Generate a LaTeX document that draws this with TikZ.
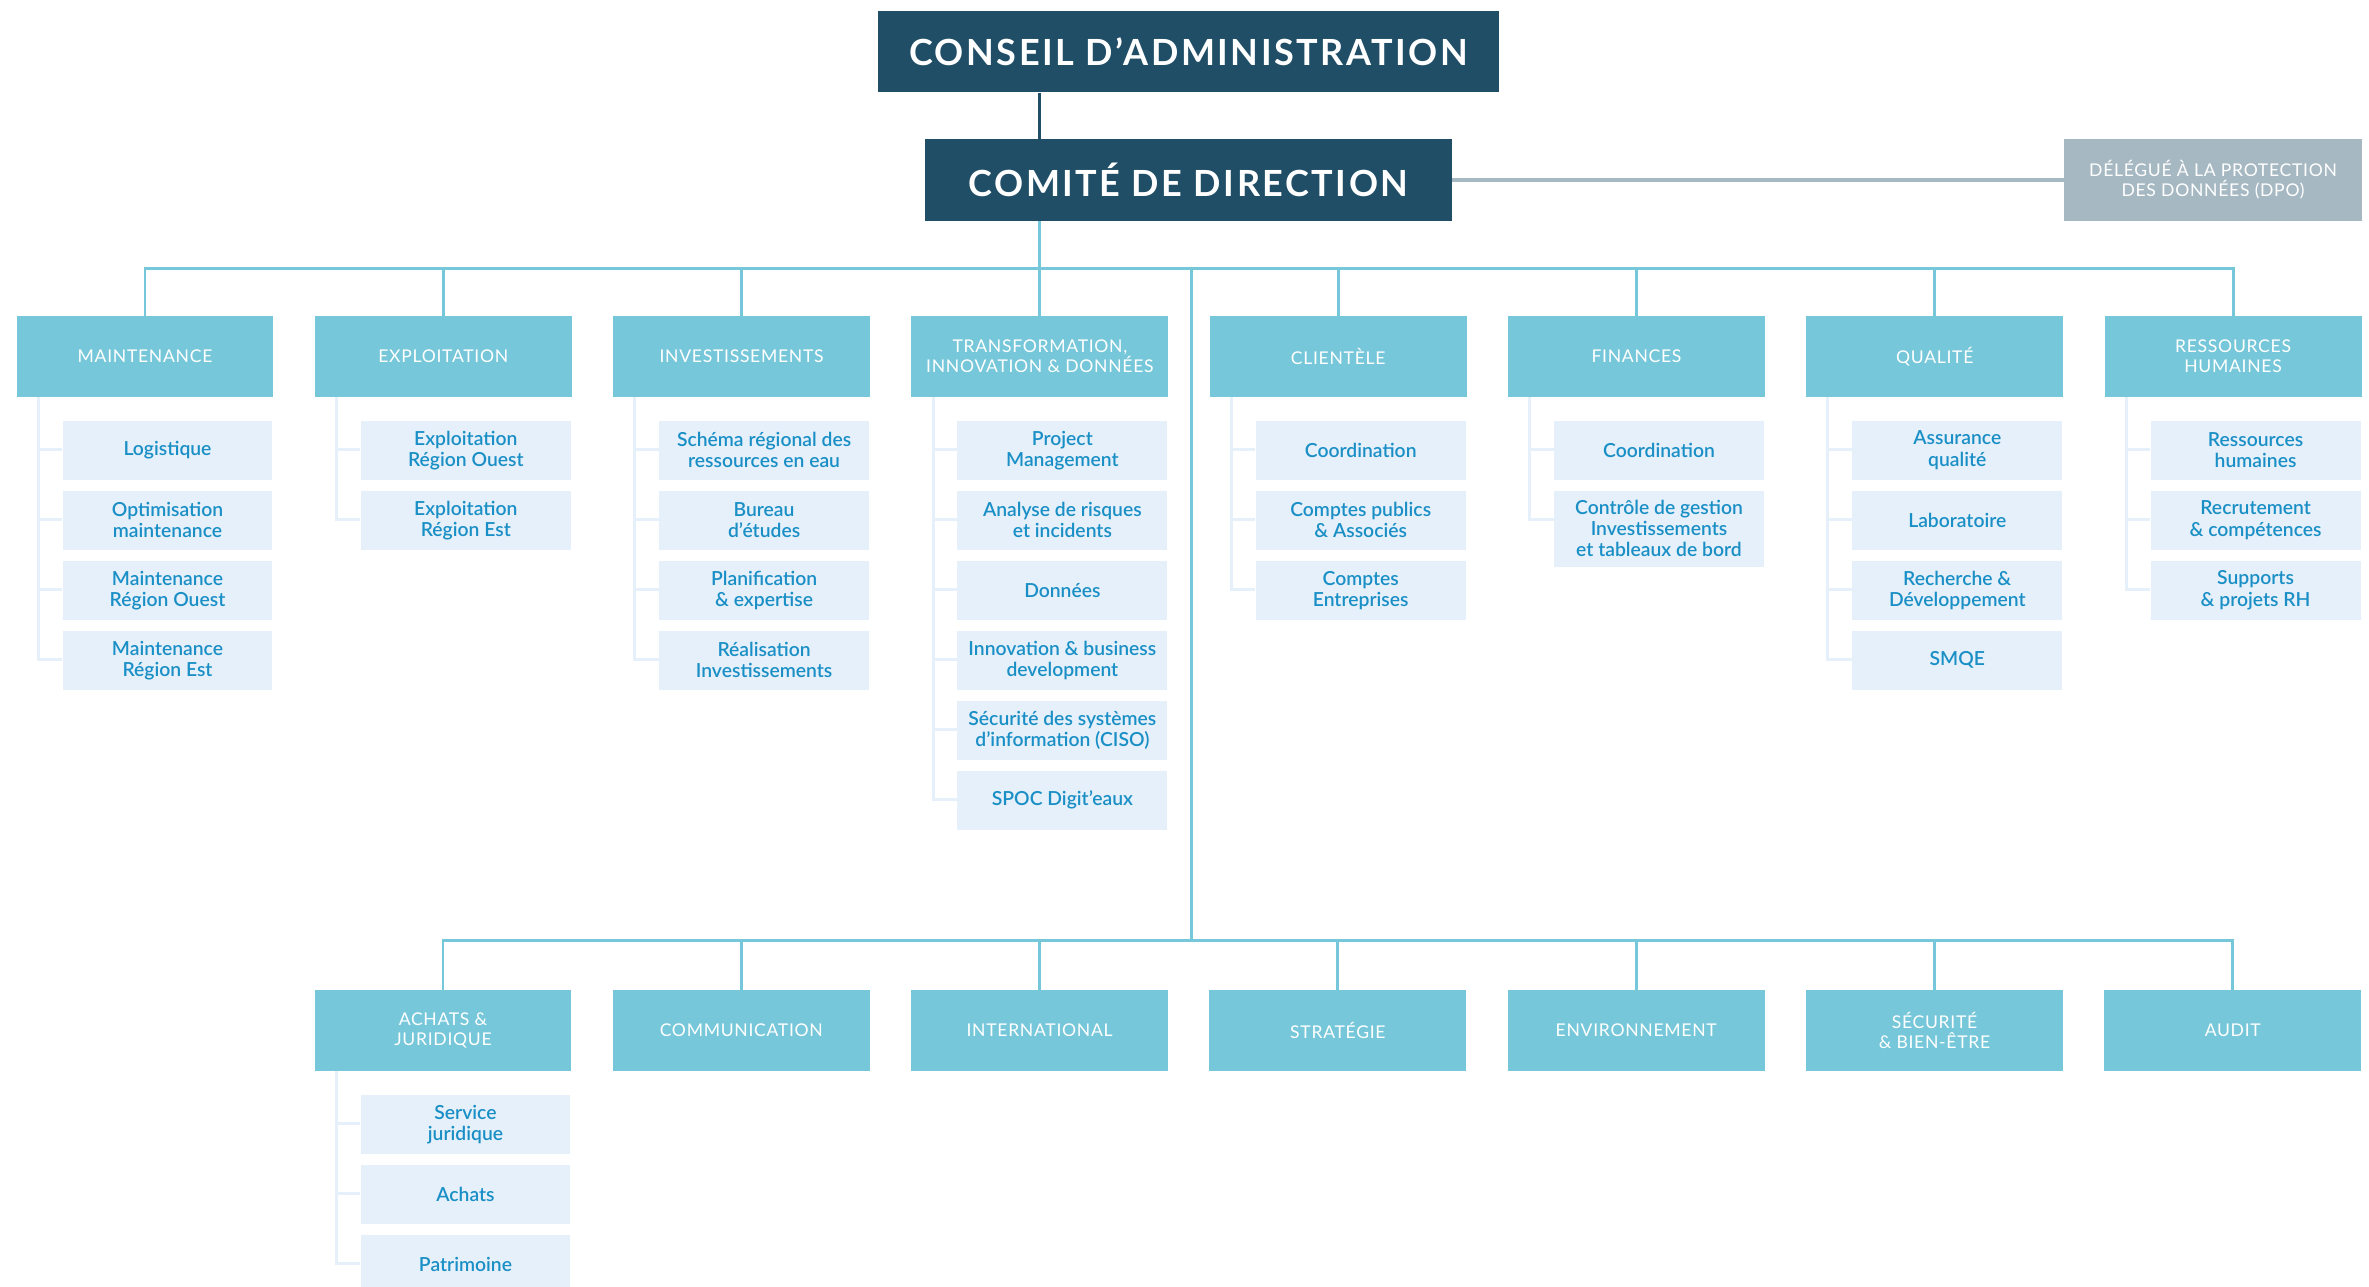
\documentclass[tikz,border=0pt]{standalone}
\usepackage{fontspec}
\setmainfont{Lato}
\newfontfamily\capsfont[LetterSpace=4]{Lato}
\newfontfamily\headfont[LetterSpace=7]{Lato}
\newfontfamily\subfont{Lato Semibold}
\usetikzlibrary{calc,positioning}

\definecolor{navy}{RGB}{31,78,102}
\definecolor{deptblue}{RGB}{118,199,217}
\definecolor{subfill}{RGB}{229,240,250}
\definecolor{subtext}{RGB}{26,143,198}
\definecolor{dpogray}{RGB}{166,184,194}

\tikzset{
  boss/.style={fill=navy, text=white, font=\headfont\bfseries\fontsize{20.5}{24}\selectfont,
    inner sep=0pt, minimum height=1.63cm},
  dept/.style={fill=deptblue, text=white, font=\capsfont\fontsize{10}{11.5}\selectfont,
    align=center, minimum width=5.14cm, minimum height=1.62cm, inner sep=0pt},
  sub/.style={fill=subfill, text=subtext, font=\subfont\fontsize{11}{12}\selectfont,
    align=center, minimum width=4.2cm, minimum height=1.18cm, inner xsep=0pt, inner ysep=5.5pt},
  bus/.style={draw=deptblue, line width=1.7pt},
  subline/.style={draw=subfill, line width=1.7pt},
}

% sub-services hanging under a department
\newcommand{\subboxes}[2]{%
  \foreach \txt [count=\i] in {#2} {%
    \node[sub, anchor=north] (#1\i) at ($(#1.south)+(22.5,{23+70*(\i-1)})$) {\txt};
    \draw[subline] ($(#1.south west)+(22,0)$) |- ($(#1\i.north west)+(0,29.5)$);
  }%
}

\begin{document}
\begin{tikzpicture}[x=0.02cm, y=-0.02cm, node distance=0.813cm]
    \useasboundingbox (0,0) rectangle (2369,1287);

    % board and management
    \node[boss, minimum width=12.42cm] (conseil) at (1188.5,51.5) {CONSEIL D’ADMINISTRATION};
    \node[boss, minimum width=10.54cm] (comite) at (1188.5,180) {COMITÉ DE DIRECTION};
    \node[fill=dpogray, text=white, font=\capsfont\fontsize{10}{11.5}\selectfont, align=center,
      minimum width=5.96cm, minimum height=1.64cm, inner sep=0pt] (dpo) at (2213,180)
      {DÉLÉGUÉ À LA PROTECTION\\DES DONNÉES (DPO)};

    % top row
    \node[dept] (maint) at (145,356.5) {MAINTENANCE};
    \node[dept, right=of maint] (exploit) {EXPLOITATION};
    \node[dept, right=of exploit] (invest) {INVESTISSEMENTS};
    \node[dept, right=of invest] (transfo) {TRANSFORMATION,\\INNOVATION \& DONNÉES};
    \node[dept, right=of transfo] (client) {CLIENTÈLE};
    \node[dept, right=of client] (fin) {FINANCES};
    \node[dept, right=of fin] (qual) {QUALITÉ};
    \node[dept, right=of qual] (rh) {RESSOURCES\\HUMAINES};

    % bottom row
    \node[dept] (achats) at (443,1030.5) {ACHATS \&\\JURIDIQUE};
    \node[dept, right=of achats] (comm) {COMMUNICATION};
    \node[dept, right=of comm] (inter) {INTERNATIONAL};
    \node[dept, right=of inter] (strat) {STRATÉGIE};
    \node[dept, right=of strat] (envir) {ENVIRONNEMENT};
    \node[dept, right=of envir] (secu) {SÉCURITÉ\\\& BIEN-ÊTRE};
    \node[dept, right=of secu] (audit) {AUDIT};

    % connectors
    \draw[navy, line width=1.7pt] (conseil.south -| transfo.north) -- (comite.north -| transfo.north);
    \draw[dpogray, line width=1.9pt] (comite.east) -- (dpo.west);
    \draw[bus] (comite.south -| transfo.north) -- (transfo.north);
    \draw[bus] (maint.north) -- ++(0,-47) -| (rh.north);
    \foreach \d in {exploit,invest,client,fin,qual}
      \draw[bus] (\d.north) -- ++(0,-47);
    \coordinate (trunk) at ($(comite.south)+(2.5,48)$);
    \draw[bus] (trunk) -- (trunk |- 0,941);
    \draw[bus] (achats.north) -- ++(0,-49) -| (audit.north);
    \foreach \d in {comm,inter,strat,envir,secu}
      \draw[bus] (\d.north) -- ++(0,-49);

    % sub-services
    \subboxes{maint}{Logistique, Optimisation\\maintenance, Maintenance\\Région Ouest, Maintenance\\Région Est}
    \subboxes{exploit}{Exploitation\\Région Ouest, Exploitation\\Région Est}
    \subboxes{invest}{Schéma régional des\\ressources en eau, Bureau\\d’études, Planification\\\& expertise, Réalisation\\Investissements}
    \subboxes{transfo}{Project\\Management, Analyse de risques\\et incidents, Données, Innovation \& business\\development, Sécurité des systèmes\\d’information (CISO), SPOC Digit’eaux}
    \subboxes{client}{Coordination, Comptes publics\\\& Associés, Comptes\\Entreprises}
    \subboxes{fin}{Coordination, Contrôle de gestion\\Investissements\\et tableaux de bord}
    \subboxes{qual}{Assurance\\qualité, Laboratoire, Recherche \&\\Développement, SMQE}
    \subboxes{rh}{Ressources\\humaines, Recrutement\\\& compétences, Supports\\\& projets RH}
    \subboxes{achats}{Service\\juridique, Achats, Patrimoine}
\end{tikzpicture}
\end{document}
